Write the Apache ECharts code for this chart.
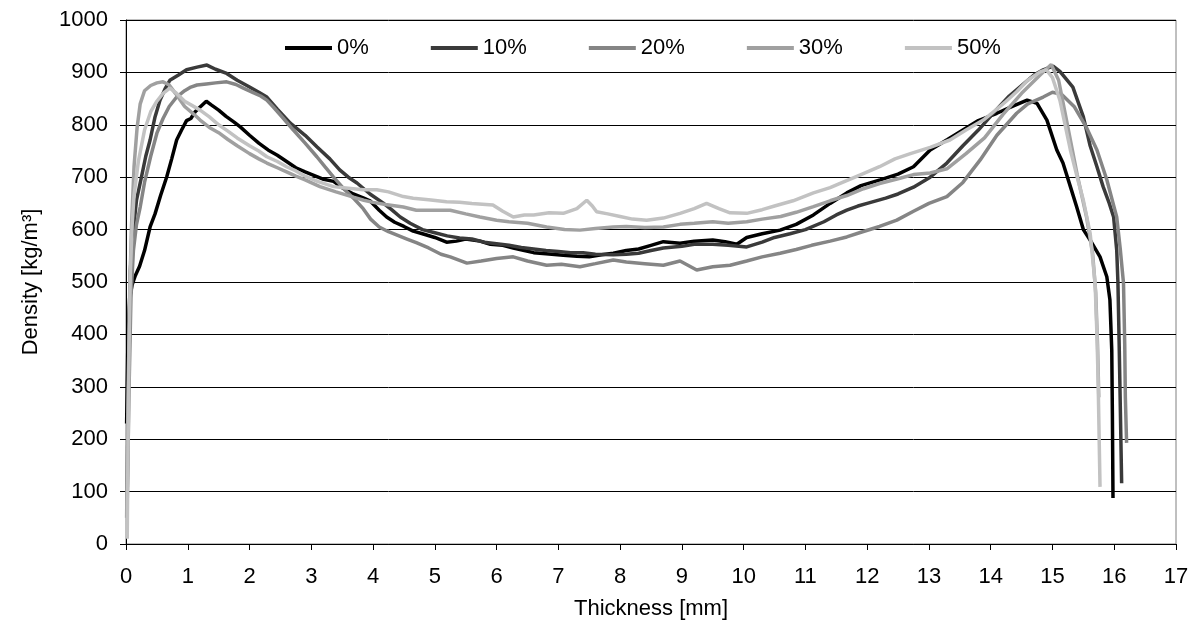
<!DOCTYPE html>
<html>
<head>
<meta charset="utf-8">
<script src="https://cdn.jsdelivr.net/npm/echarts@6/dist/echarts.min.js"></script>
<style>
html,body{margin:0;padding:0;background:#fff;}
#chart{width:1195px;height:630px;}
</style>
</head>
<body>
<div id="chart"></div>
<script>
// Legend names
const seriesNames = ['0%', '10%', '20%', '30%', '50%'];
const seriesColors = ['#000000', '#3a3a3a', '#858585', '#a0a0a0', '#c2c2c2'];

// [thickness mm, density kg/m3]
const d0 = [[0.01,230],[0.03,380],[0.06,470],[0.1,495],[0.15,512],[0.22,530],[0.3,560],[0.39,605],[0.47,630],[0.56,665],[0.66,701],[0.74,735],[0.82,771],[0.9,790],[0.98,808],[1.05,812],[1.12,825],[1.2,834],[1.3,845],[1.38,838],[1.5,828],[1.62,816],[1.75,805],[1.85,796],[2.0,780],[2.15,765],[2.3,752],[2.45,742],[2.6,730],[2.75,718],[2.9,710],[3.05,703],[3.2,696],[3.36,692],[3.5,680],[3.68,668],[3.85,660],[3.95,655],[4.1,637],[4.22,624],[4.35,614],[4.5,606],[4.65,597],[4.8,592],[5.0,585],[5.19,576],[5.35,578],[5.5,582],[5.73,578],[5.9,572],[6.1,570],[6.27,565],[6.45,560],[6.6,556],[6.8,554],[7.08,551],[7.3,549],[7.5,548],[7.7,552],[7.89,555],[8.1,560],[8.3,563],[8.5,570],[8.7,577],[8.97,574],[9.2,578],[9.5,580],[9.7,577],[9.89,572],[10.05,585],[10.3,592],[10.59,599],[10.85,610],[11.13,628],[11.4,650],[11.67,670],[11.9,684],[12.21,695],[12.5,706],[12.75,720],[13.02,752],[13.3,772],[13.55,790],[13.8,808],[14.1,822],[14.35,835],[14.59,847],[14.75,841],[14.91,809],[15.07,752],[15.17,727],[15.29,682],[15.39,644],[15.5,600],[15.62,578],[15.77,548],[15.88,510],[15.93,466],[15.96,370],[15.97,250],[15.98,88]];

const d10 = [[0.02,100],[0.04,330],[0.07,520],[0.1,580],[0.17,656],[0.25,700],[0.32,740],[0.39,771],[0.47,815],[0.55,847],[0.63,868],[0.71,885],[0.85,895],[0.98,905],[1.15,910],[1.31,914],[1.45,906],[1.63,898],[1.8,885],[2.0,872],[2.15,862],[2.28,853],[2.45,830],[2.66,803],[2.9,780],[3.09,758],[3.3,735],[3.46,714],[3.6,700],[3.74,689],[3.95,668],[4.16,651],[4.3,638],[4.44,624],[4.6,612],[4.8,600],[5.0,594],[5.2,588],[5.4,584],[5.6,582],[5.8,576],[6.0,573],[6.2,570],[6.4,566],[6.6,563],[6.8,560],[7.0,558],[7.2,556],[7.4,556],[7.6,553],[7.89,552],[8.1,553],[8.3,555],[8.5,560],[8.7,565],[9.0,568],[9.2,572],[9.5,572],[9.75,570],[10.05,567],[10.3,576],[10.5,585],[10.75,592],[11.0,600],[11.3,615],[11.5,628],[11.67,637],[11.85,645],[12.0,650],[12.3,660],[12.5,668],[12.75,681],[13.02,700],[13.29,727],[13.55,760],[13.8,790],[14.1,830],[14.3,855],[14.5,875],[14.7,895],[14.85,905],[15.01,912],[15.12,902],[15.33,872],[15.5,815],[15.61,760],[15.72,720],[15.82,682],[15.92,650],[15.99,624],[16.04,561],[16.06,498],[16.08,380],[16.1,250],[16.12,116]];

const d20 = [[0.02,80],[0.05,300],[0.08,470],[0.12,560],[0.17,610],[0.23,643],[0.3,690],[0.4,740],[0.5,784],[0.6,812],[0.7,835],[0.82,853],[0.95,865],[1.05,872],[1.15,876],[1.3,878],[1.45,880],[1.63,882],[1.78,877],[1.9,870],[2.05,862],[2.18,855],[2.28,847],[2.4,832],[2.55,812],[2.71,790],[2.9,765],[3.09,739],[3.22,720],[3.36,700],[3.55,675],[3.7,658],[3.84,640],[3.96,620],[4.1,605],[4.25,596],[4.4,589],[4.55,582],[4.7,575],[4.9,565],[5.1,553],[5.25,548],[5.52,536],[5.75,540],[6.0,545],[6.27,548],[6.5,540],[6.81,532],[7.05,534],[7.35,529],[7.6,535],[7.89,542],[8.1,538],[8.4,535],[8.7,532],[8.97,540],[9.24,523],[9.5,529],[9.78,532],[10.05,540],[10.3,548],[10.59,555],[10.85,562],[11.1,570],[11.4,578],[11.67,586],[11.9,595],[12.2,606],[12.48,618],[12.75,635],[13.0,650],[13.29,663],[13.55,690],[13.83,733],[14.1,780],[14.42,822],[14.6,840],[14.85,853],[15.0,862],[15.15,858],[15.35,835],[15.55,795],[15.72,752],[15.88,695],[16.04,624],[16.1,560],[16.15,498],[16.17,380],[16.18,280],[16.2,193]];

const d30 = [[0.01,50],[0.03,250],[0.06,480],[0.09,610],[0.13,720],[0.18,795],[0.23,840],[0.3,865],[0.4,875],[0.5,880],[0.6,882],[0.7,876],[0.8,860],[0.95,835],[1.1,820],[1.2,809],[1.35,795],[1.5,785],[1.65,772],[1.8,760],[2.0,745],[2.15,735],[2.28,727],[2.45,718],[2.6,710],[2.75,702],[2.9,695],[3.14,682],[3.4,672],[3.68,662],[3.85,656],[4.0,652],[4.2,648],[4.49,643],[4.7,637],[5.0,637],[5.25,637],[5.5,630],[5.73,624],[6.0,618],[6.2,615],[6.5,612],[6.81,605],[7.1,600],[7.35,599],[7.6,602],[7.89,605],[8.1,606],[8.4,604],[8.7,605],[8.97,610],[9.2,612],[9.5,615],[9.75,612],[10.05,615],[10.3,620],[10.6,625],[10.85,633],[11.13,644],[11.4,655],[11.67,665],[11.94,678],[12.2,688],[12.5,697],[12.75,705],[13.02,708],[13.29,716],[13.6,745],[13.9,775],[14.2,820],[14.5,860],[14.8,895],[14.98,915],[15.1,885],[15.25,795],[15.4,705],[15.55,625],[15.65,555],[15.7,480],[15.73,380],[15.75,280]];

const d50 = [[0.02,10],[0.03,150],[0.05,380],[0.07,520],[0.1,610],[0.13,665],[0.2,730],[0.3,790],[0.4,825],[0.5,845],[0.6,860],[0.71,870],[0.8,862],[0.95,845],[1.2,828],[1.35,815],[1.5,800],[1.65,788],[1.8,775],[2.0,760],[2.15,750],[2.28,739],[2.45,730],[2.6,720],[2.75,712],[2.9,702],[3.1,692],[3.36,682],[3.6,679],[3.84,676],[4.06,676],[4.25,672],[4.49,663],[4.65,660],[4.9,657],[5.19,653],[5.4,652],[5.6,650],[5.94,647],[6.1,635],[6.27,624],[6.45,628],[6.6,628],[6.85,632],[7.08,631],[7.3,640],[7.46,656],[7.55,645],[7.62,634],[7.8,630],[8.0,625],[8.2,620],[8.43,618],[8.7,622],[8.97,631],[9.2,640],[9.4,650],[9.6,640],[9.78,632],[10.05,631],[10.3,638],[10.5,645],[10.8,655],[11.13,670],[11.4,680],[11.6,690],[11.9,705],[12.2,720],[12.45,735],[12.7,745],[13.02,757],[13.34,771],[13.6,790],[13.88,809],[14.1,830],[14.25,845],[14.42,863],[14.6,885],[14.8,901],[14.9,905],[15.0,890],[15.12,847],[15.29,752],[15.4,700],[15.5,656],[15.61,593],[15.69,498],[15.72,400],[15.74,307],[15.77,109]];

const allData = [d0, d10, d20, d30, d50];

const FONT = '"Liberation Sans", Arial, sans-serif';
const FS = 22;
const chart = echarts.init(document.getElementById('chart'), null, {renderer: 'canvas'});
chart.setOption({
  animation: false,
  backgroundColor: '#ffffff',
  textStyle: {fontFamily: FONT, color: '#000'},
  grid: {left: 126, right: 19, top: 20, bottom: 86, show: true, borderColor: '#808080', borderWidth: 1},
  legend: {
    left: 285, top: 37, padding: 0,
    icon: 'rect', itemWidth: 47, itemHeight: 4, itemGap: 62,
    textStyle: {fontFamily: FONT, fontSize: FS, color: '#000'},
    data: seriesNames
  },
  xAxis: {
    type: 'value', min: 0, max: 17, interval: 1,
    name: 'Thickness [mm]', nameLocation: 'middle', nameGap: 54,
    nameTextStyle: {fontFamily: FONT, fontSize: FS, color: '#000'},
    axisLine: {show: true, lineStyle: {color: '#000', width: 1}},
    axisTick: {show: true, length: 6, lineStyle: {color: '#000'}},
    axisLabel: {fontFamily: FONT, fontSize: FS, color: '#000', margin: 22},
    splitLine: {show: false}
  },
  yAxis: {
    type: 'value', min: 0, max: 1000, interval: 100,
    name: 'Density [kg/m³]', nameLocation: 'middle', nameGap: 84,
    nameTextStyle: {fontFamily: FONT, fontSize: FS, color: '#000'},
    axisLine: {show: true, lineStyle: {color: '#000', width: 1}},
    axisTick: {show: true, length: 6, lineStyle: {color: '#000'}},
    axisLabel: {fontFamily: FONT, fontSize: FS, color: '#000', margin: 18, formatter: v => String(v)},
    splitLine: {show: true, lineStyle: {color: '#000', width: 1}}
  },
  series: seriesNames.map((n, i) => ({
    name: n, type: 'line', data: allData[i], showSymbol: false, symbol: 'none',
    lineStyle: {color: seriesColors[i], width: 3.5},
    itemStyle: {color: seriesColors[i]},
    z: 2 + i
  }))
});
</script>
</body>
</html>
